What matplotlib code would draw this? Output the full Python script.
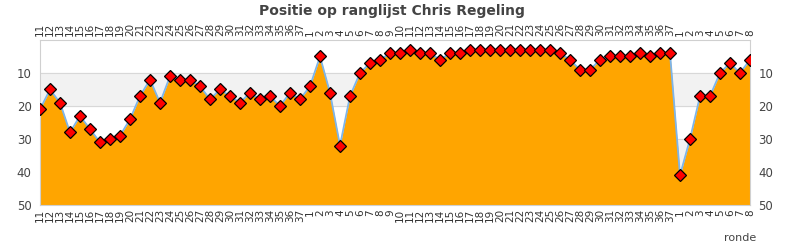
import matplotlib
matplotlib.use("Agg")
import matplotlib.pyplot as plt
import numpy as np

rounds = [str(r) for r in range(11, 38)] + [str(r) for r in range(1, 38)] + [str(r) for r in range(1, 9)]
positions = [21, 15, 19, 28, 23, 27, 31, 30, 29, 24, 17, 12, 19, 11, 12, 12, 14, 18, 15, 17,
             19, 16, 18, 17, 20, 16, 18,
             14, 5, 16, 32, 17, 10, 7, 6, 4, 4, 3, 4, 4, 6, 4, 4, 3, 3, 3, 3, 3, 3, 3, 3, 3,
             4, 6, 9, 9, 6, 5, 5, 5, 4, 5, 4, 4,
             41, 30, 17, 17, 10, 7, 10, 6]
title = "Positie op ranglijst Chris Regeling"
xlabel = "ronde"
yticks = [10, 20, 30, 40, 50]

fig = plt.figure(figsize=(7.9, 2.5), dpi=100)
ax = fig.add_axes([40/790, 45/250, 710/790, 165/250])
x = np.arange(len(positions))

ax.set_xlim(0, len(positions) - 1)
ax.set_ylim(50, 0)
# bands
for lo, hi in [(10, 20), (30, 40)]:
    ax.axhspan(lo, hi, color="#f2f2f2", zorder=0)
for yv in [10, 20, 30, 40]:
    ax.axhline(yv, color="#d8d8d8", lw=0.8, zorder=0.5)

ax.fill_between(x, positions, 50, color="#FFA500", zorder=2, lw=0)
ax.plot(x, positions, color="#7cb5ec", lw=1.3, zorder=3)
ax.plot(x, positions, ls="none", marker="D", ms=6.5, mfc="#ff0000", mec="black", mew=0.9, zorder=4)

ax.set_yticks(yticks)
ax.tick_params(axis="y", which="both", length=0, labelsize=8.5, labelcolor="#444444",
               left=True, right=True, labelleft=True, labelright=True, pad=6)
ax.set_xticks(x)
ax.set_xticklabels(rounds, rotation=90, fontsize=7.5, color="#333333")
ax.tick_params(axis="x", which="both", length=0, top=True, bottom=True,
               labeltop=True, labelbottom=True, pad=3)

for s in ax.spines.values():
    s.set_color("#d0d0d0")
    s.set_linewidth(0.8)

fig.text(392/790, 1 - 11/250, title, ha="center", va="center", fontsize=10,
         fontweight="bold", color="#444444", family="DejaVu Sans Condensed", zorder=10)
fig.text(740/790, 1 - 238/250, xlabel, ha="center", va="center", fontsize=8, color="#444444")

fig.savefig("out.png", dpi=100)
